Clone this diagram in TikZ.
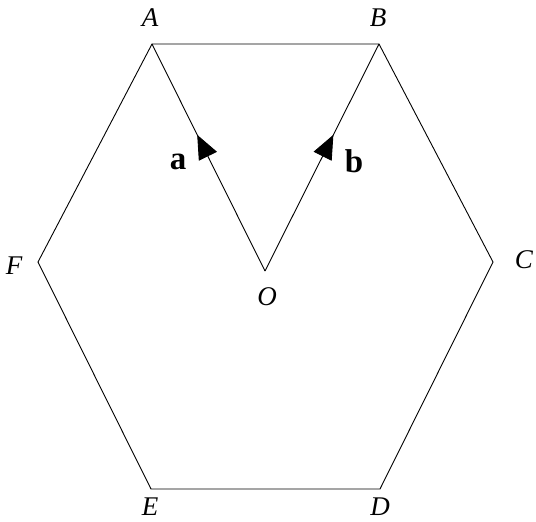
\documentclass[tikz,border=0pt]{standalone}
\usepackage{fontspec}
\setmainfont{Liberation Serif}
\usetikzlibrary{arrows.meta,decorations.markings}

\begin{document}
\begin{tikzpicture}[x=1pt,y=-1pt,line width=0.9pt,
        lbl/.style={inner sep=0pt,font=\fontsize{27}{31}\selectfont\itshape},
        vlbl/.style={inner sep=0pt,font=\fontsize{33}{38}\selectfont\bfseries},
        vec/.style={postaction={decorate},decoration={markings,
            mark=at position 0.6 with {\arrow{Triangle[length=24pt,width=20pt]}}}}]
        \useasboundingbox (0,0) rectangle (536,522);

        \coordinate (A) at (152,44);
        \coordinate (B) at (379,44);
        \coordinate (C) at (493,262);
        \coordinate (D) at (380,489);
        \coordinate (E) at (151,489);
        \coordinate (F) at (38,262);
        \coordinate (O) at (265,271);

        \draw (A) -- (B) -- (C) -- (D) -- (E) -- (F) -- cycle;
        \draw[vec] (O) -- (A);
        \draw[vec] (O) -- (B);

        \node[lbl] (lA) at (150,18) {A};
        \node[lbl] (lB) at (378,18) {B};
        \node[lbl] (lC) at (524,260) {C};
        \node[lbl] (lD) at (380,507) {D};
        \node[lbl] (lE) at (150,507) {E};
        \node[lbl] (lF) at (14,266) {F};
        \node[lbl] (lO) at (267,297) {O};
        \node[vlbl] (la) at (178,162) {a};
        \node[vlbl] (lb) at (354,161) {b};
    \end{tikzpicture}
\end{document}
